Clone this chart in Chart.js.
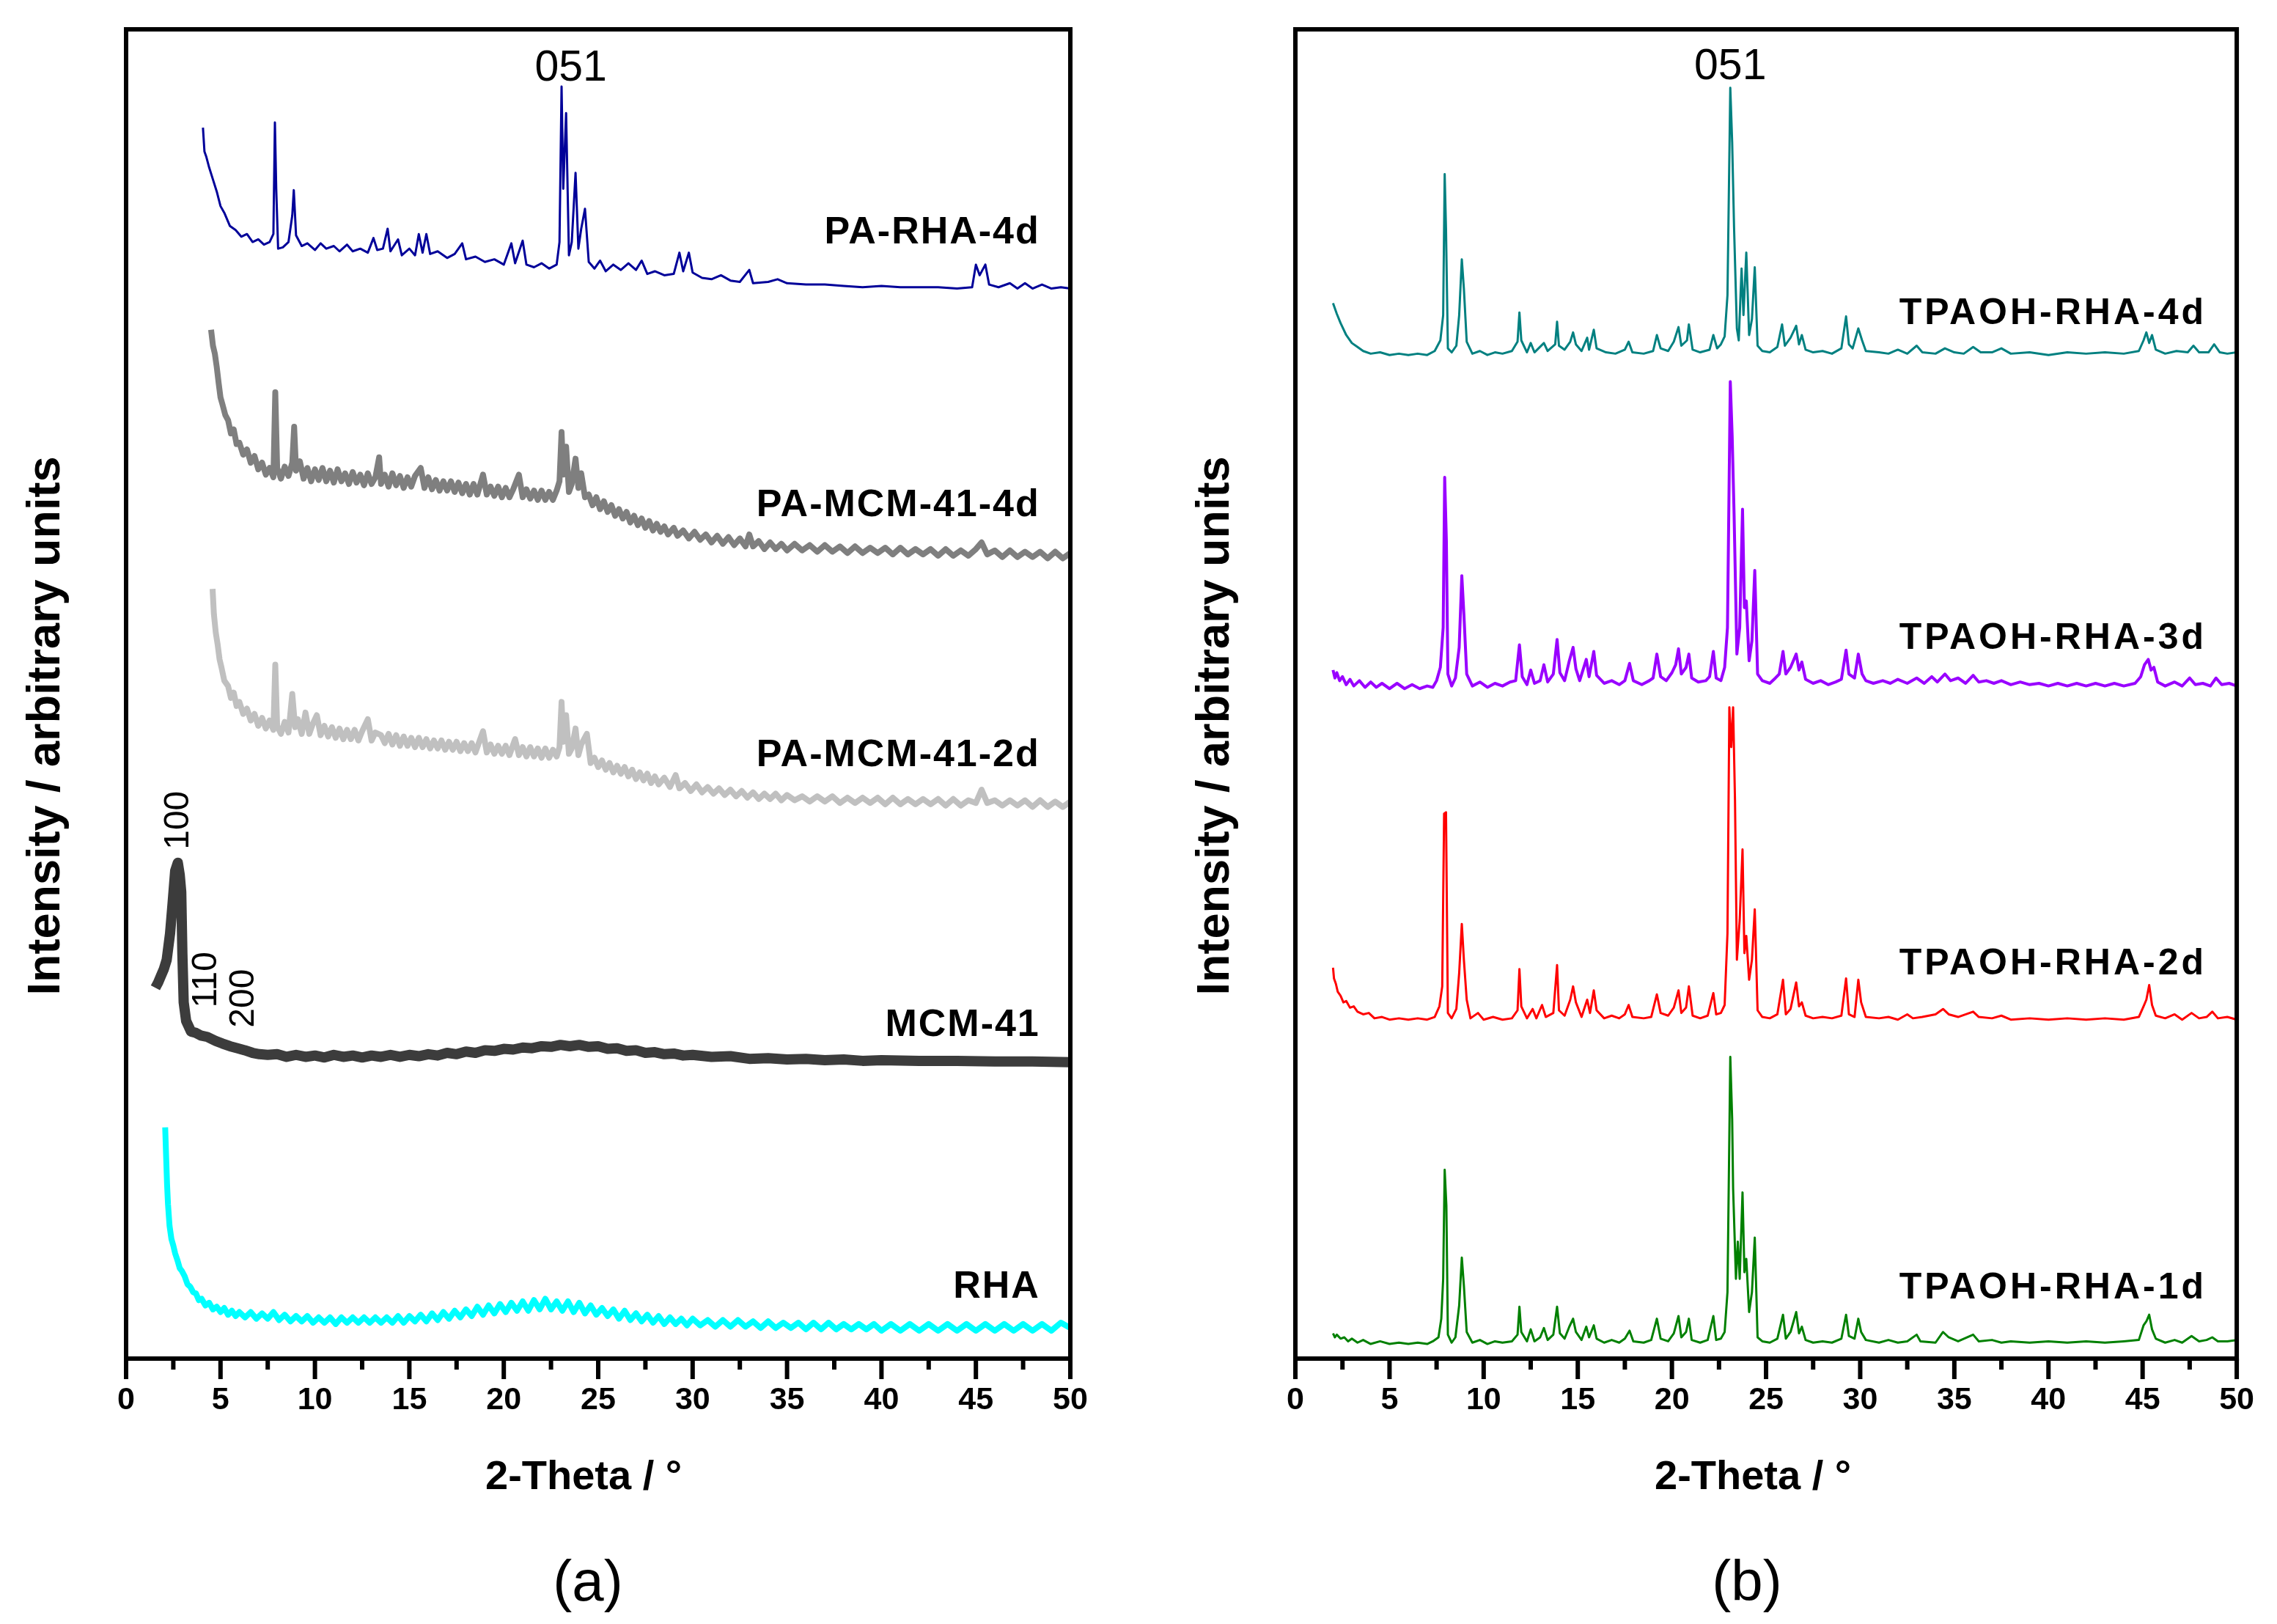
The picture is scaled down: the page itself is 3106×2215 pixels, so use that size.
<!DOCTYPE html>
<html>
<head>
  <title>XRD patterns</title>
  <script src="https://cdn.jsdelivr.net/npm/chart.js"></script>
  <style>
    body { margin: 0; background: #fff; }
    canvas { position: absolute; top: 0; }
  </style>
</head>
<body>
  <canvas id="chart-a" width="1553" height="2215" style="left:0"></canvas>
  <canvas id="chart-b" width="1553" height="2215" style="left:1553px"></canvas>
  <script>
    // x axis (2-Theta, degrees)
    const xMajor = [0, 5, 10, 15, 20, 25, 30, 35, 40, 45, 50];
    const xMinor = [2.5, 7.5, 12.5, 17.5, 22.5, 27.5, 32.5, 37.5, 42.5, 47.5];

    // panel (a), [2theta, intensity] pairs, intensity in arbitrary stacked units
    const paRha4d = [[4.07,92.6],[4.15,90.8],[4.25,90.4],[4.4,89.6],[4.6,88.7],[4.8,87.8],[5.0,86.7],[5.2,86.2],[5.5,85.2],[5.8,84.9],[6.1,84.4],[6.4,84.6],[6.7,84.0],[7.0,84.2],[7.3,83.8],[7.6,84.0],[7.8,84.6],[7.88,93.0],[7.95,88.0],[8.05,83.5],[8.3,83.6],[8.6,84.0],[8.8,86.0],[8.88,87.9],[9.0,84.5],[9.3,83.7],[9.6,83.9],[10.0,83.4],[10.3,83.9],[10.6,83.5],[11.0,83.7],[11.3,83.3],[11.7,83.8],[12.0,83.3],[12.4,83.5],[12.8,83.2],[13.1,84.3],[13.3,83.4],[13.6,83.5],[13.85,85.0],[14.0,83.3],[14.4,84.2],[14.6,83.0],[15.0,83.5],[15.3,83.0],[15.5,84.6],[15.7,83.2],[15.9,84.6],[16.1,83.1],[16.5,83.3],[17.0,82.8],[17.4,83.1],[17.8,83.9],[18.0,82.7],[18.5,82.9],[19.0,82.5],[19.5,82.7],[20.0,82.3],[20.4,83.9],[20.6,82.4],[21.0,84.1],[21.2,82.3],[21.6,82.1],[22.0,82.4],[22.4,82.0],[22.8,82.3],[22.95,84.0],[23.06,95.7],[23.15,88.0],[23.3,93.7],[23.45,83.0],[23.6,84.0],[23.8,89.2],[23.95,83.5],[24.1,85.0],[24.3,86.5],[24.5,82.5],[24.8,82.0],[25.1,82.6],[25.4,81.8],[25.8,82.3],[26.2,81.9],[26.6,82.4],[27.0,81.9],[27.3,82.6],[27.6,81.6],[28.0,81.8],[28.5,81.5],[29.0,81.6],[29.3,83.2],[29.5,81.8],[29.8,83.2],[30.0,81.7],[30.5,81.3],[31.0,81.2],[31.5,81.5],[32.0,81.1],[32.5,81.0],[33.0,81.9],[33.2,80.9],[34.0,81.0],[34.5,81.2],[35.0,80.9],[36.0,80.8],[37.0,80.8],[38.0,80.7],[39.0,80.6],[40.0,80.7],[41.0,80.6],[42.0,80.6],[43.0,80.6],[44.0,80.5],[44.8,80.6],[45.0,82.3],[45.2,81.5],[45.5,82.3],[45.7,80.8],[46.2,80.6],[46.8,80.9],[47.2,80.5],[47.6,80.9],[48.0,80.5],[48.5,80.8],[49.0,80.5],[49.5,80.6],[50.0,80.5]];

    const paMcm4d = [[4.5,77.4],[4.6,76.2],[4.7,75.6],[4.8,74.6],[4.9,73.4],[5.0,72.3],[5.1,71.8],[5.25,71.0],[5.4,70.6],[5.55,69.6],[5.7,69.9],[5.85,68.8],[6.0,68.9],[6.2,68.0],[6.4,68.4],[6.6,67.4],[6.8,67.9],[7.0,66.9],[7.2,67.4],[7.4,66.5],[7.6,67.0],[7.8,66.3],[7.9,72.7],[8.0,67.0],[8.2,66.2],[8.4,67.1],[8.6,66.4],[8.8,67.4],[8.9,70.1],[9.0,66.8],[9.2,67.5],[9.4,66.2],[9.6,67.0],[9.8,66.0],[10.0,66.9],[10.2,66.1],[10.4,67.0],[10.6,66.0],[10.8,66.8],[11.0,65.9],[11.2,66.9],[11.4,66.0],[11.6,66.6],[11.8,65.8],[12.0,66.7],[12.2,65.9],[12.4,66.5],[12.6,65.7],[12.8,66.6],[13.0,65.8],[13.2,66.3],[13.4,67.8],[13.5,65.8],[13.7,66.5],[13.9,65.6],[14.1,66.6],[14.3,65.7],[14.5,66.4],[14.7,65.5],[14.9,66.3],[15.1,65.6],[15.3,66.4],[15.6,67.0],[15.8,65.5],[16.0,66.3],[16.2,65.4],[16.4,66.1],[16.6,65.3],[16.8,66.0],[17.0,65.3],[17.2,66.0],[17.4,65.2],[17.6,65.9],[17.8,65.1],[18.0,65.8],[18.2,65.0],[18.4,65.8],[18.6,65.0],[18.9,66.5],[19.1,65.0],[19.3,65.6],[19.5,64.9],[19.7,65.6],[19.9,64.8],[20.1,65.5],[20.3,64.8],[20.5,65.4],[20.8,66.5],[21.0,64.8],[21.2,65.4],[21.4,64.7],[21.6,65.3],[21.8,64.6],[22.0,65.3],[22.2,64.6],[22.4,65.2],[22.6,64.6],[22.8,65.3],[22.95,66.0],[23.06,69.7],[23.15,66.5],[23.3,68.6],[23.45,65.2],[23.6,65.8],[23.8,67.7],[23.95,65.5],[24.1,66.6],[24.3,64.8],[24.5,65.0],[24.7,64.2],[24.9,64.8],[25.1,63.9],[25.3,64.5],[25.5,63.7],[25.7,64.2],[25.9,63.4],[26.1,63.9],[26.3,63.2],[26.5,63.7],[26.7,62.9],[26.9,63.4],[27.1,62.7],[27.3,63.2],[27.5,62.5],[27.7,63.0],[27.9,62.3],[28.1,62.8],[28.3,62.2],[28.5,62.6],[28.7,62.0],[29.0,62.5],[29.2,61.9],[29.5,62.3],[29.8,61.7],[30.1,62.2],[30.4,61.6],[30.7,62.0],[31.0,61.4],[31.3,61.9],[31.6,61.3],[31.9,61.8],[32.2,61.2],[32.5,61.7],[32.8,61.1],[33.0,62.0],[33.2,61.1],[33.5,61.5],[33.8,60.9],[34.1,61.4],[34.4,60.9],[34.7,61.3],[35.0,60.8],[35.4,61.3],[35.8,60.8],[36.2,61.2],[36.6,60.7],[37.0,61.2],[37.4,60.7],[37.8,61.1],[38.2,60.6],[38.6,61.1],[39.0,60.6],[39.4,61.0],[39.8,60.6],[40.2,61.0],[40.6,60.5],[41.0,61.0],[41.4,60.5],[41.8,60.9],[42.2,60.5],[42.6,60.9],[43.0,60.4],[43.4,60.9],[43.8,60.4],[44.2,60.8],[44.6,60.4],[45.0,60.9],[45.3,61.4],[45.6,60.5],[46.0,60.8],[46.4,60.3],[46.8,60.8],[47.2,60.3],[47.6,60.7],[48.0,60.3],[48.4,60.7],[48.8,60.2],[49.2,60.7],[49.6,60.2],[50.0,60.6]];

    const paMcm2d = [[4.58,57.9],[4.65,56.0],[4.75,54.6],[4.85,53.7],[4.95,52.6],[5.05,52.0],[5.2,51.0],[5.4,50.6],[5.55,49.7],[5.7,50.1],[5.85,49.1],[6.0,49.4],[6.2,48.5],[6.4,48.9],[6.6,48.0],[6.8,48.5],[7.0,47.6],[7.2,48.2],[7.4,47.4],[7.6,48.0],[7.8,47.3],[7.9,52.2],[8.0,47.6],[8.2,47.0],[8.4,47.9],[8.6,47.1],[8.8,50.0],[8.95,47.5],[9.1,48.1],[9.3,47.0],[9.5,48.6],[9.7,47.0],[9.9,47.8],[10.1,48.4],[10.3,46.9],[10.5,47.6],[10.7,46.8],[10.9,47.5],[11.1,46.7],[11.3,47.4],[11.5,46.6],[11.7,47.3],[11.9,46.6],[12.1,47.3],[12.3,46.5],[12.5,47.2],[12.8,48.1],[13.0,46.5],[13.2,47.1],[13.5,46.9],[13.7,46.3],[13.9,47.0],[14.1,46.2],[14.3,46.9],[14.5,46.1],[14.7,46.8],[14.9,46.1],[15.1,46.7],[15.3,46.0],[15.5,46.7],[15.7,46.0],[15.9,46.6],[16.1,45.9],[16.3,46.5],[16.5,45.9],[16.7,46.5],[16.9,45.8],[17.1,46.4],[17.3,45.8],[17.5,46.4],[17.7,45.7],[17.9,46.3],[18.1,45.7],[18.3,46.3],[18.5,45.6],[18.9,47.2],[19.1,45.6],[19.3,46.2],[19.5,45.5],[19.7,46.1],[19.9,45.5],[20.1,46.1],[20.3,45.4],[20.6,46.6],[20.8,45.4],[21.0,46.0],[21.2,45.3],[21.4,46.0],[21.6,45.3],[21.8,45.9],[22.0,45.2],[22.2,45.9],[22.4,45.2],[22.6,45.8],[22.8,45.3],[22.95,46.0],[23.06,49.4],[23.15,46.4],[23.3,48.4],[23.45,45.5],[23.6,45.9],[23.8,47.4],[23.95,45.4],[24.1,46.2],[24.4,47.0],[24.6,44.8],[24.8,45.2],[25.0,44.5],[25.2,45.0],[25.4,44.3],[25.6,44.8],[25.8,44.1],[26.0,44.6],[26.2,44.0],[26.4,44.5],[26.6,43.8],[26.8,44.3],[27.0,43.6],[27.2,44.1],[27.4,43.5],[27.6,44.0],[27.8,43.3],[28.0,43.8],[28.2,43.2],[28.5,43.7],[28.8,43.0],[29.1,43.9],[29.3,42.9],[29.6,43.3],[29.9,42.7],[30.2,43.2],[30.5,42.6],[30.8,43.0],[31.1,42.5],[31.4,42.9],[31.7,42.4],[32.0,42.8],[32.3,42.3],[32.6,42.7],[32.9,42.2],[33.2,42.6],[33.5,42.1],[33.8,42.5],[34.1,42.1],[34.4,42.5],[34.7,42.0],[35.0,42.4],[35.4,42.0],[35.8,42.3],[36.2,41.9],[36.6,42.3],[37.0,41.9],[37.4,42.3],[37.8,41.8],[38.2,42.2],[38.6,41.8],[39.0,42.2],[39.4,41.8],[39.8,42.2],[40.2,41.7],[40.6,42.2],[41.0,41.7],[41.4,42.1],[41.8,41.7],[42.2,42.1],[42.6,41.7],[43.0,42.1],[43.4,41.6],[43.8,42.1],[44.2,41.6],[44.6,42.0],[45.0,41.8],[45.3,42.8],[45.6,41.8],[46.0,42.0],[46.4,41.6],[46.8,42.0],[47.2,41.6],[47.6,42.0],[48.0,41.5],[48.4,42.0],[48.8,41.5],[49.2,41.9],[49.6,41.5],[50.0,41.9]];

    const mcm41 = [[1.55,27.9],[1.7,28.3],[1.85,28.8],[2.0,29.3],[2.15,30.0],[2.33,32.0],[2.46,34.2],[2.6,36.7],[2.74,37.3],[2.84,36.4],[2.92,35.1],[2.98,30.5],[3.05,26.8],[3.18,25.4],[3.44,24.6],[3.7,24.5],[3.96,24.3],[4.3,24.2],[4.74,23.9],[5.1,23.7],[5.5,23.5],[5.9,23.35],[6.28,23.2],[6.7,23.0],[7.06,22.9],[7.5,22.85],[8,22.9],[8.5,22.7],[9,22.85],[9.5,22.7],[10,22.8],[10.5,22.65],[11,22.85],[11.5,22.7],[12,22.8],[12.5,22.65],[13,22.8],[13.5,22.7],[14,22.85],[14.5,22.7],[15,22.85],[15.5,22.75],[16,22.9],[16.5,22.8],[17,23.0],[17.5,22.9],[18,23.1],[18.5,23.0],[19,23.2],[19.5,23.15],[20,23.3],[20.5,23.25],[21,23.4],[21.5,23.35],[22,23.5],[22.5,23.45],[23,23.6],[23.5,23.5],[24,23.6],[24.5,23.45],[25,23.5],[25.5,23.3],[26,23.35],[26.5,23.15],[27,23.2],[27.5,23.0],[28,23.05],[28.5,22.9],[29,22.95],[29.5,22.8],[30,22.85],[31,22.7],[32,22.75],[33,22.55],[34,22.6],[35,22.5],[36,22.55],[37,22.45],[38,22.5],[39,22.4],[40,22.45],[42,22.4],[44,22.4],[46,22.35],[48,22.35],[50,22.3]];

    const rha = [[2.07,17.4],[2.12,15.2],[2.17,13.1],[2.22,11.6],[2.3,10.0],[2.4,9.0],[2.5,8.5],[2.6,7.9],[2.72,7.4],[2.84,6.8],[2.95,6.6],[3.1,6.2],[3.25,5.6],[3.4,5.4],[3.55,5.0],[3.7,4.9],[3.85,4.4],[4.0,4.5],[4.2,4.0],[4.4,4.2],[4.6,3.7],[4.8,3.9],[5.0,3.5],[5.2,3.8],[5.4,3.3],[5.6,3.6],[5.8,3.2],[6.0,3.5],[6.3,3.1],[6.6,3.5],[6.9,3.0],[7.2,3.4],[7.5,3.0],[7.8,3.5],[8.1,2.9],[8.4,3.3],[8.7,2.8],[9.0,3.2],[9.3,2.8],[9.6,3.2],[9.9,2.7],[10.2,3.1],[10.5,2.7],[10.8,3.1],[11.1,2.6],[11.4,3.1],[11.7,2.7],[12.0,3.1],[12.3,2.7],[12.6,3.1],[12.9,2.7],[13.2,3.1],[13.5,2.7],[13.8,3.1],[14.1,2.7],[14.4,3.2],[14.7,2.7],[15.0,3.2],[15.3,2.8],[15.6,3.3],[15.9,2.8],[16.2,3.4],[16.5,2.9],[16.8,3.5],[17.1,3.0],[17.4,3.6],[17.7,3.1],[18.0,3.7],[18.3,3.2],[18.6,3.9],[18.9,3.3],[19.2,4.0],[19.5,3.4],[19.8,4.1],[20.1,3.5],[20.4,4.2],[20.7,3.6],[21.0,4.3],[21.3,3.6],[21.6,4.4],[21.9,3.7],[22.2,4.5],[22.5,3.7],[22.8,4.3],[23.1,3.6],[23.4,4.3],[23.7,3.5],[24.0,4.2],[24.3,3.4],[24.6,4.0],[24.9,3.3],[25.2,3.8],[25.5,3.2],[25.8,3.7],[26.1,3.0],[26.4,3.6],[26.7,2.9],[27.0,3.4],[27.3,2.8],[27.6,3.3],[27.9,2.7],[28.2,3.2],[28.5,2.6],[28.8,3.1],[29.1,2.6],[29.4,3.0],[29.7,2.5],[30.0,3.0],[30.4,2.5],[30.8,2.9],[31.2,2.4],[31.6,2.9],[32.0,2.4],[32.4,2.9],[32.8,2.4],[33.2,2.8],[33.6,2.3],[34.0,2.8],[34.4,2.3],[34.8,2.7],[35.2,2.3],[35.6,2.7],[36.0,2.2],[36.4,2.7],[36.8,2.2],[37.2,2.7],[37.6,2.2],[38.0,2.6],[38.4,2.2],[38.8,2.6],[39.2,2.2],[39.6,2.6],[40.0,2.1],[40.5,2.6],[41.0,2.1],[41.5,2.6],[42.0,2.1],[42.5,2.6],[43.0,2.1],[43.5,2.6],[44.0,2.1],[44.5,2.6],[45.0,2.1],[45.5,2.6],[46.0,2.1],[46.5,2.6],[47.0,2.1],[47.5,2.6],[48.0,2.1],[48.5,2.6],[49.0,2.1],[49.5,2.7],[50.0,2.3]];

    // panel (b)
    const tpaoh4d = [[2.0,79.4],[2.2,78.6],[2.4,77.9],[2.7,77.0],[3.0,76.4],[3.3,76.1],[3.6,75.8],[4.0,75.6],[4.5,75.7],[5.0,75.5],[5.5,75.6],[6.0,75.5],[6.5,75.6],[7.0,75.5],[7.4,75.8],[7.7,76.6],[7.85,78.5],[7.93,89.1],[8.0,85.0],[8.1,76.0],[8.3,75.7],[8.55,76.2],[8.7,78.5],[8.84,82.7],[8.95,80.5],[9.1,76.5],[9.4,75.6],[9.8,75.8],[10.2,75.5],[10.6,75.7],[11.0,75.6],[11.5,75.8],[11.8,76.5],[11.9,78.7],[12.0,76.6],[12.3,75.7],[12.5,76.4],[12.7,75.7],[13.2,76.4],[13.4,75.8],[13.8,76.3],[13.9,78.0],[14.0,76.2],[14.3,75.9],[14.6,76.5],[14.75,77.2],[14.9,76.3],[15.2,75.8],[15.5,76.8],[15.6,75.9],[15.85,77.4],[16.0,76.0],[16.5,75.7],[17.0,75.6],[17.5,75.9],[17.7,76.5],[17.9,75.7],[18.5,75.6],[19.0,75.8],[19.2,77.0],[19.4,76.0],[19.8,75.8],[20.1,76.5],[20.35,77.6],[20.5,76.2],[20.8,76.6],[20.9,77.8],[21.1,75.9],[21.5,75.7],[22.0,75.9],[22.2,77.0],[22.4,76.0],[22.6,76.3],[22.8,76.9],[22.95,80.0],[23.1,95.6],[23.2,91.5],[23.3,85.1],[23.45,77.5],[23.55,76.6],[23.7,82.0],[23.8,78.5],[23.95,83.2],[24.1,77.0],[24.25,78.2],[24.4,82.1],[24.55,76.2],[24.8,75.8],[25.2,75.7],[25.6,76.1],[25.85,77.8],[26.0,76.2],[26.3,76.8],[26.6,77.7],[26.75,76.3],[26.9,77.0],[27.1,75.9],[27.5,75.7],[28.0,75.8],[28.5,75.6],[29.0,76.0],[29.25,78.4],[29.4,76.3],[29.6,76.0],[29.9,77.5],[30.1,76.6],[30.3,75.8],[31.0,75.7],[31.5,75.6],[32.0,75.9],[32.5,75.6],[33.0,76.2],[33.3,75.7],[34.0,75.6],[34.5,76.0],[35.0,75.7],[35.5,75.6],[36.0,76.1],[36.4,75.7],[37.0,75.7],[37.5,76.0],[38.0,75.6],[39.0,75.7],[40.0,75.5],[41.0,75.7],[42.0,75.6],[43.0,75.7],[44.0,75.6],[44.8,75.8],[45.05,76.6],[45.2,77.2],[45.35,76.4],[45.5,77.0],[45.7,75.9],[46.2,75.6],[46.8,75.8],[47.4,75.7],[47.7,76.2],[48.0,75.7],[48.5,75.7],[48.8,76.3],[49.1,75.7],[49.5,75.6],[50.0,75.7]];

    const tpaoh3d = [[2.0,51.8],[2.1,51.2],[2.2,51.6],[2.35,51.0],[2.5,51.3],[2.7,50.7],[2.9,51.1],[3.1,50.6],[3.4,51.0],[3.7,50.5],[4.0,50.9],[4.3,50.5],[4.6,50.8],[5.0,50.4],[5.4,50.8],[5.8,50.4],[6.2,50.7],[6.6,50.4],[7.0,50.6],[7.3,50.5],[7.5,51.0],[7.7,52.0],[7.85,55.0],[7.93,66.3],[8.02,61.5],[8.1,51.5],[8.3,50.6],[8.5,51.2],[8.7,53.5],[8.84,58.9],[8.95,56.0],[9.1,51.5],[9.4,50.6],[9.8,50.9],[10.2,50.5],[10.6,50.8],[11.0,50.6],[11.4,50.9],[11.7,51.0],[11.9,53.7],[12.05,51.3],[12.3,50.7],[12.5,51.8],[12.7,50.8],[13.0,51.0],[13.2,52.2],[13.4,50.9],[13.7,51.5],[13.9,54.1],[14.05,51.6],[14.3,51.0],[14.55,52.5],[14.75,53.5],[14.9,51.9],[15.1,51.0],[15.45,52.6],[15.6,51.3],[15.85,53.2],[16.0,51.4],[16.4,50.8],[16.8,51.0],[17.2,50.7],[17.5,51.0],[17.75,52.3],[17.95,51.0],[18.4,50.7],[18.8,51.0],[19.0,51.2],[19.2,53.0],[19.4,51.3],[19.7,51.0],[20.0,51.6],[20.2,52.2],[20.35,53.4],[20.5,51.5],[20.75,52.0],[20.9,53.0],[21.05,51.2],[21.4,50.9],[21.8,51.0],[22.0,51.3],[22.2,53.2],[22.35,51.2],[22.6,51.0],[22.8,52.0],[22.95,55.0],[23.1,73.5],[23.2,69.4],[23.3,63.6],[23.45,53.0],[23.6,55.0],[23.75,63.9],[23.85,56.5],[23.95,57.0],[24.1,52.5],[24.25,54.0],[24.4,59.3],[24.55,51.5],[24.8,51.0],[25.2,50.8],[25.5,51.2],[25.7,51.5],[25.9,53.2],[26.05,51.5],[26.3,52.0],[26.6,53.0],[26.75,51.8],[26.9,52.4],[27.1,51.1],[27.5,50.8],[27.9,51.0],[28.3,50.7],[28.7,50.9],[29.0,51.1],[29.25,53.3],[29.4,51.5],[29.7,51.2],[29.9,53.0],[30.1,51.5],[30.3,51.0],[30.7,50.8],[31.2,51.0],[31.6,50.8],[32.0,51.1],[32.5,50.8],[33.0,51.2],[33.4,50.8],[33.8,51.3],[34.1,50.9],[34.5,51.5],[34.8,51.0],[35.2,51.2],[35.6,50.8],[36.0,51.4],[36.3,50.9],[36.7,51.0],[37.1,50.8],[37.5,51.0],[38.0,50.7],[38.5,50.9],[39.0,50.7],[39.5,50.8],[40.0,50.6],[40.5,50.8],[41.0,50.6],[41.5,50.8],[42.0,50.6],[42.5,50.8],[43.0,50.6],[43.5,50.8],[44.0,50.6],[44.6,50.8],[44.9,51.3],[45.1,52.2],[45.3,52.6],[45.45,51.8],[45.6,52.0],[45.8,50.9],[46.2,50.6],[46.7,50.9],[47.1,50.6],[47.5,51.2],[47.8,50.7],[48.2,50.8],[48.6,50.6],[48.9,51.2],[49.2,50.7],[49.6,50.8],[50.0,50.6]];

    const tpaoh2d = [[2.0,29.4],[2.05,28.6],[2.15,28.2],[2.25,27.6],[2.4,27.3],[2.55,26.8],[2.7,26.9],[2.9,26.4],[3.1,26.5],[3.3,26.1],[3.6,25.9],[3.9,26.0],[4.2,25.6],[4.6,25.7],[5.0,25.5],[5.5,25.6],[6.0,25.5],[6.5,25.6],[7.0,25.5],[7.4,25.7],[7.65,26.5],[7.8,28.0],[7.9,41.0],[8.0,41.1],[8.1,26.0],[8.3,25.6],[8.55,26.3],[8.7,29.0],[8.84,32.7],[8.95,30.0],[9.1,27.0],[9.3,25.6],[9.7,26.0],[10.0,25.5],[10.5,25.7],[11.0,25.5],[11.5,25.6],[11.8,26.2],[11.9,29.3],[12.0,26.5],[12.3,25.6],[12.6,26.3],[12.8,25.6],[13.1,26.6],[13.3,25.7],[13.7,26.0],[13.9,29.6],[14.0,26.2],[14.3,25.8],[14.6,27.0],[14.75,28.0],[14.9,26.8],[15.2,25.7],[15.5,27.0],[15.65,26.0],[15.85,27.7],[16.0,26.2],[16.4,25.6],[16.8,25.8],[17.2,25.6],[17.5,25.9],[17.7,26.6],[17.9,25.7],[18.5,25.6],[18.9,25.7],[19.2,27.4],[19.4,26.0],[19.8,25.8],[20.1,26.4],[20.35,27.7],[20.5,26.0],[20.75,26.4],[20.9,28.0],[21.1,25.8],[21.5,25.6],[21.9,25.8],[22.2,27.5],[22.35,25.9],[22.6,26.0],[22.8,26.6],[22.95,32.0],[23.05,49.0],[23.15,46.0],[23.25,49.0],[23.35,42.0],[23.45,30.0],[23.6,33.0],[23.75,38.3],[23.85,30.5],[23.95,31.8],[24.1,28.5],[24.25,30.0],[24.4,33.8],[24.55,26.2],[24.8,25.7],[25.2,25.6],[25.6,25.9],[25.9,28.5],[26.05,25.9],[26.3,26.3],[26.6,28.3],[26.75,26.5],[26.9,26.8],[27.1,25.8],[27.5,25.6],[28.0,25.7],[28.5,25.6],[29.0,25.8],[29.25,28.6],[29.4,25.9],[29.7,25.7],[29.9,28.5],[30.05,26.8],[30.3,25.7],[31.0,25.6],[31.5,25.7],[32.0,25.5],[32.5,25.9],[32.8,25.6],[33.3,25.7],[34.0,25.9],[34.4,26.3],[34.7,25.9],[35.2,25.7],[36.0,26.1],[36.3,25.7],[37.0,25.6],[37.5,25.8],[38.0,25.5],[39.0,25.6],[40.0,25.5],[41.0,25.6],[42.0,25.5],[43.0,25.6],[44.0,25.5],[44.8,25.7],[45.05,26.5],[45.2,27.0],[45.35,28.1],[45.5,26.6],[45.7,25.8],[46.2,25.6],[46.7,25.9],[47.1,25.5],[47.6,26.0],[48.0,25.6],[48.4,25.7],[48.7,26.1],[49.0,25.6],[49.5,25.7],[50.0,25.5]];

    const tpaoh1d = [[2.0,1.9],[2.1,1.6],[2.2,1.8],[2.4,1.5],[2.6,1.6],[2.8,1.3],[3.0,1.5],[3.3,1.2],[3.6,1.4],[4.0,1.1],[4.5,1.3],[5.0,1.1],[5.5,1.2],[6.0,1.1],[6.5,1.2],[7.0,1.1],[7.3,1.3],[7.6,1.6],[7.75,3.0],[7.85,6.0],[7.93,14.2],[8.02,11.5],[8.1,1.8],[8.3,1.2],[8.5,1.6],[8.7,4.0],[8.84,7.6],[8.95,5.5],[9.1,2.0],[9.4,1.2],[9.8,1.4],[10.2,1.1],[10.6,1.3],[11.0,1.2],[11.5,1.3],[11.8,1.8],[11.9,3.9],[12.0,2.0],[12.3,1.3],[12.5,2.2],[12.7,1.3],[13.0,1.6],[13.2,2.3],[13.4,1.4],[13.7,1.8],[13.9,3.9],[14.05,1.9],[14.3,1.5],[14.55,2.4],[14.75,3.0],[14.9,2.0],[15.2,1.4],[15.45,2.4],[15.6,1.6],[15.85,2.5],[16.0,1.5],[16.4,1.2],[16.8,1.4],[17.2,1.2],[17.5,1.5],[17.75,2.1],[17.95,1.3],[18.5,1.2],[18.9,1.4],[19.2,3.0],[19.4,1.5],[19.8,1.3],[20.1,1.9],[20.35,3.2],[20.5,1.6],[20.75,2.0],[20.9,3.0],[21.05,1.4],[21.5,1.2],[21.9,1.4],[22.2,3.2],[22.35,1.4],[22.6,1.5],[22.8,2.0],[22.95,5.0],[23.1,22.7],[23.2,18.0],[23.25,12.8],[23.4,6.0],[23.5,8.8],[23.6,6.0],[23.75,12.5],[23.85,6.5],[23.95,7.5],[24.1,3.5],[24.25,5.0],[24.4,9.1],[24.55,1.6],[24.8,1.3],[25.2,1.2],[25.6,1.5],[25.9,3.3],[26.05,1.5],[26.3,2.0],[26.6,3.5],[26.75,1.9],[26.9,2.4],[27.1,1.4],[27.5,1.2],[28.0,1.3],[28.5,1.2],[29.0,1.5],[29.25,3.3],[29.4,1.7],[29.7,1.5],[29.9,3.0],[30.05,2.0],[30.3,1.4],[31.0,1.2],[31.5,1.4],[32.0,1.2],[32.5,1.3],[33.0,1.8],[33.2,1.3],[34.0,1.2],[34.4,2.0],[34.7,1.6],[35.2,1.3],[36.0,1.8],[36.3,1.3],[37.0,1.4],[37.5,1.2],[38.0,1.3],[39.0,1.2],[40.0,1.3],[41.0,1.2],[42.0,1.3],[43.0,1.2],[44.0,1.3],[44.8,1.4],[45.05,2.5],[45.2,2.8],[45.35,3.3],[45.5,2.2],[45.7,1.5],[46.2,1.2],[46.7,1.4],[47.1,1.2],[47.6,1.7],[48.0,1.3],[48.4,1.4],[48.7,1.6],[49.0,1.3],[49.5,1.3],[50.0,1.4]];

    // curve names with their label heights (axis units)
    const namesA = [['PA-RHA-4d', 84.9], ['PA-MCM-41-4d', 64.4], ['PA-MCM-41-2d', 45.6], ['MCM-41', 25.3], ['RHA', 5.6]];
    const namesB = [['TPAOH-RHA-4d', 78.8], ['TPAOH-RHA-3d', 54.4], ['TPAOH-RHA-2d', 29.9], ['TPAOH-RHA-1d', 5.5]];
    // reflection indices: text, 2theta, height, rotation
    const peaksA = [['051', 23.55, 97.3, 0], ['100', 2.64, 40.5, -90], ['110', 4.11, 28.5, -90], ['200', 6.09, 27.1, -90]];
    const peaksB = [['051', 23.1, 97.4, 0]];

    const FONT = '"Liberation Sans", Arial, sans-serif';

    function text(ctx, str, px, py, size, weight, align, rot, spacing) {
      ctx.save();
      ctx.translate(px, py);
      if (rot) ctx.rotate(rot * Math.PI / 180);
      ctx.font = weight + ' ' + size + 'px ' + FONT;
      ctx.letterSpacing = (spacing || 0) + 'px';
      ctx.textAlign = align;
      ctx.textBaseline = 'alphabetic';
      ctx.fillStyle = '#000';
      ctx.fillText(str, 0, size * 0.358); // py is the middle of the capitals
      ctx.restore();
    }

    const framePlugin = {
      id: 'frame',
      afterDraw(chart, args, opts) {
        const { ctx, chartArea: a } = chart;
        const x = chart.scales.x, y = chart.scales.y;
        ctx.save();
        ctx.strokeStyle = '#000';
        ctx.lineWidth = 6;
        ctx.strokeRect(a.left, a.top, a.right - a.left, a.bottom - a.top);
        ctx.beginPath();
        xMajor.forEach(v => { const p = x.getPixelForValue(v); ctx.moveTo(p, a.bottom); ctx.lineTo(p, a.bottom + 28); });
        xMinor.forEach(v => { const p = x.getPixelForValue(v); ctx.moveTo(p, a.bottom); ctx.lineTo(p, a.bottom + 15); });
        ctx.stroke();
        ctx.restore();

        text(ctx, 'Intensity / arbitrary units', a.left - 114, a.top + 950, 63, 'bold', 'center', -90);
        text(ctx, '2-Theta / \u00b0', a.left + 490, 2011, 56, 'bold', 'left');
        text(ctx, opts.letter, a.left + opts.letterDx, 2155, 78, 'normal', 'center');

        opts.names.forEach(([s, v]) => text(ctx, s, x.getPixelForValue(48.4), y.getPixelForValue(v), opts.nameSize, 'bold', 'right', 0, opts.spacing));
        opts.peaks.forEach(([s, px, v, r]) => text(ctx, s, x.getPixelForValue(px), y.getPixelForValue(v), r ? 48 : 59, 'normal', 'center', r));
      }
    };

    function makeChart(id, series, pad, extra) {
      return new Chart(document.getElementById(id), {
        type: 'line',
        data: {
          datasets: series.map(([label, pts, color, width]) => ({
            label,
            data: pts.map(([px, py]) => ({ x: px, y: py })),
            borderColor: color,
            borderWidth: width,
            borderJoinStyle: 'round',
            pointRadius: 0,
            tension: 0,
            fill: false
          }))
        },
        options: {
          responsive: false,
          animation: false,
          devicePixelRatio: 1,
          layout: { padding: { left: pad[0], right: pad[1], top: 40, bottom: 0 } },
          plugins: { legend: { display: false }, tooltip: { enabled: false }, frame: extra },
          scales: {
            x: {
              type: 'linear', min: 0, max: 50,
              grid: { display: false, drawTicks: false },
              border: { display: false },
              afterBuildTicks: s => { s.ticks = xMajor.map(v => ({ value: v })); },
              afterFit: s => { s.height = 362; },
              ticks: {
                autoSkip: false, maxRotation: 0, padding: 31, color: '#000',
                font: { family: FONT, size: 43, weight: 'bold' },
                callback: v => String(v)
              }
            },
            y: { type: 'linear', min: 0, max: 100, display: false }
          }
        },
        plugins: [framePlugin]
      });
    }

    makeChart('chart-a', [
      ['PA-RHA-4d', paRha4d, '#000099', 3],
      ['PA-MCM-41-4d', paMcm4d, '#7f7f7f', 8],
      ['PA-MCM-41-2d', paMcm2d, '#c0c0c0', 8],
      ['MCM-41', mcm41, '#3c3c3c', 14],
      ['RHA', rha, '#00ffff', 8]
    ], [172, 93], { letter: '(a)', letterDx: 630, names: namesA, peaks: peaksA, nameSize: 52, spacing: 2 });

    makeChart('chart-b', [
      ['TPAOH-RHA-4d', tpaoh4d, '#008080', 3],
      ['TPAOH-RHA-3d', tpaoh3d, '#9900ff', 4],
      ['TPAOH-RHA-2d', tpaoh2d, '#ff0000', 3],
      ['TPAOH-RHA-1d', tpaoh1d, '#008000', 3]
    ], [214, 51], { letter: '(b)', letterDx: 616, names: namesB, peaks: peaksB, nameSize: 50, spacing: 4 });
  </script>
</body>
</html>
